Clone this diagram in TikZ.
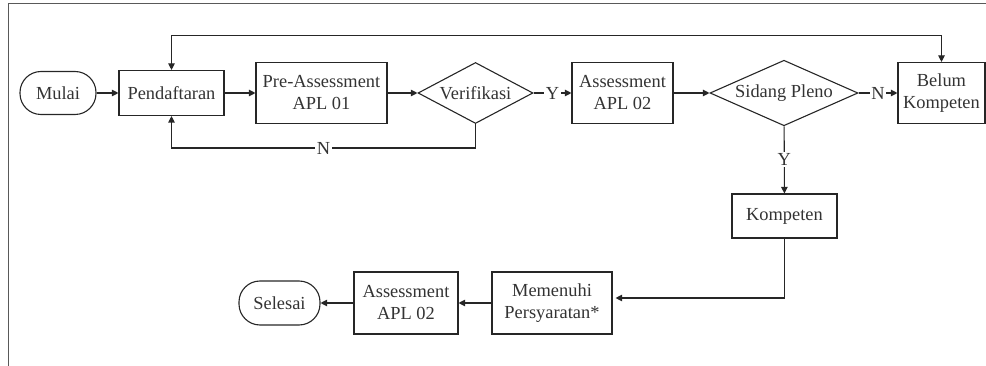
\documentclass[tikz,border=0pt]{standalone}
\usepackage{fontspec}
\setmainfont{Liberation Serif}
\usetikzlibrary{shapes.geometric,arrows.meta}
\begin{document}
\begin{tikzpicture}[x=1pt,y=-1pt,
  every node/.style={font=\fontsize{18.4}{22}\selectfont, text=black!80},
  box/.style={draw=black!85, line width=1.1pt, rectangle, inner sep=0pt, align=center},
  term/.style={draw=black!85, line width=1.1pt, rounded corners=21pt, inner sep=0pt, align=center},
  dec/.style={draw=black!85, line width=1.1pt, diamond, aspect=2, inner sep=0pt, align=center},
  conn/.style={draw=black!85, line width=1.1pt, -{Triangle[length=6.5pt,width=6.5pt]}},
  both/.style={draw=black!85, line width=1.1pt, {Triangle[length=6.5pt,width=6.5pt]}-{Triangle[length=6.5pt,width=6.5pt]}},
  lbl/.style={fill=white, inner sep=1.5pt}]
\useasboundingbox (0,0) rectangle (986,366);
\draw[line width=1pt, black!65] (8,366) -- (8,3.5) -- (986,3.5);
\node[term, minimum width=76pt, minimum height=43pt] (mulai) at (58,93) {Mulai};
\node[box, minimum width=105pt, minimum height=45pt] (daftar) at (171.5,93) {Pendaftaran};
\node[box, minimum width=131pt, minimum height=61pt] (pre) at (321.5,93) {Pre-Assessment\\APL 01};
\node[dec, minimum width=115pt, minimum height=61pt] (verif) at (475.5,93) {Verifikasi};
\node[box, minimum width=101pt, minimum height=61pt] (apl2) at (622.5,93) {Assessment\\APL 02};
\node[dec, minimum width=148pt, minimum height=61pt] (sidang) at (784,93) {Sidang Pleno};
\node[box, minimum width=87pt, minimum height=61pt] (belum) at (941.5,93) {Belum\\Kompeten};
\node[box, minimum width=105pt, minimum height=44pt] (komp) at (784.5,216) {Kompeten};
\node[box, minimum width=120pt, minimum height=62pt] (memenuhi) at (552,303) {Memenuhi\\Persyaratan*};
\node[box, minimum width=104pt, minimum height=62pt] (apl2b) at (406,303) {Assessment\\APL 02};
\node[term, minimum width=81pt, minimum height=44pt] (selesai) at (279.5,303) {Selesai};

\draw[conn] (mulai) -- (daftar);
\draw[conn] (daftar) -- (pre);
\draw[conn] (pre) -- (verif);
\draw[conn] (verif) -- node[lbl]{Y} (apl2);
\draw[conn] (apl2) -- (sidang);
\draw[conn] (sidang) -- node[lbl]{N} (belum);
\draw[conn] (sidang) -- node[lbl]{Y} (komp);
\draw[conn] (verif.south) -- ++(0,24) -| node[lbl, pos=0.25]{N} (daftar.south);
\draw[both] (daftar.north) -- ++(0,-34) -| (belum.north);
\draw[conn] (komp.south) |- ([yshift=5pt,xshift=3pt]memenuhi.east);
\draw[conn] (memenuhi) -- (apl2b);
\draw[conn] (apl2b) -- (selesai);
\end{tikzpicture}
\end{document}
